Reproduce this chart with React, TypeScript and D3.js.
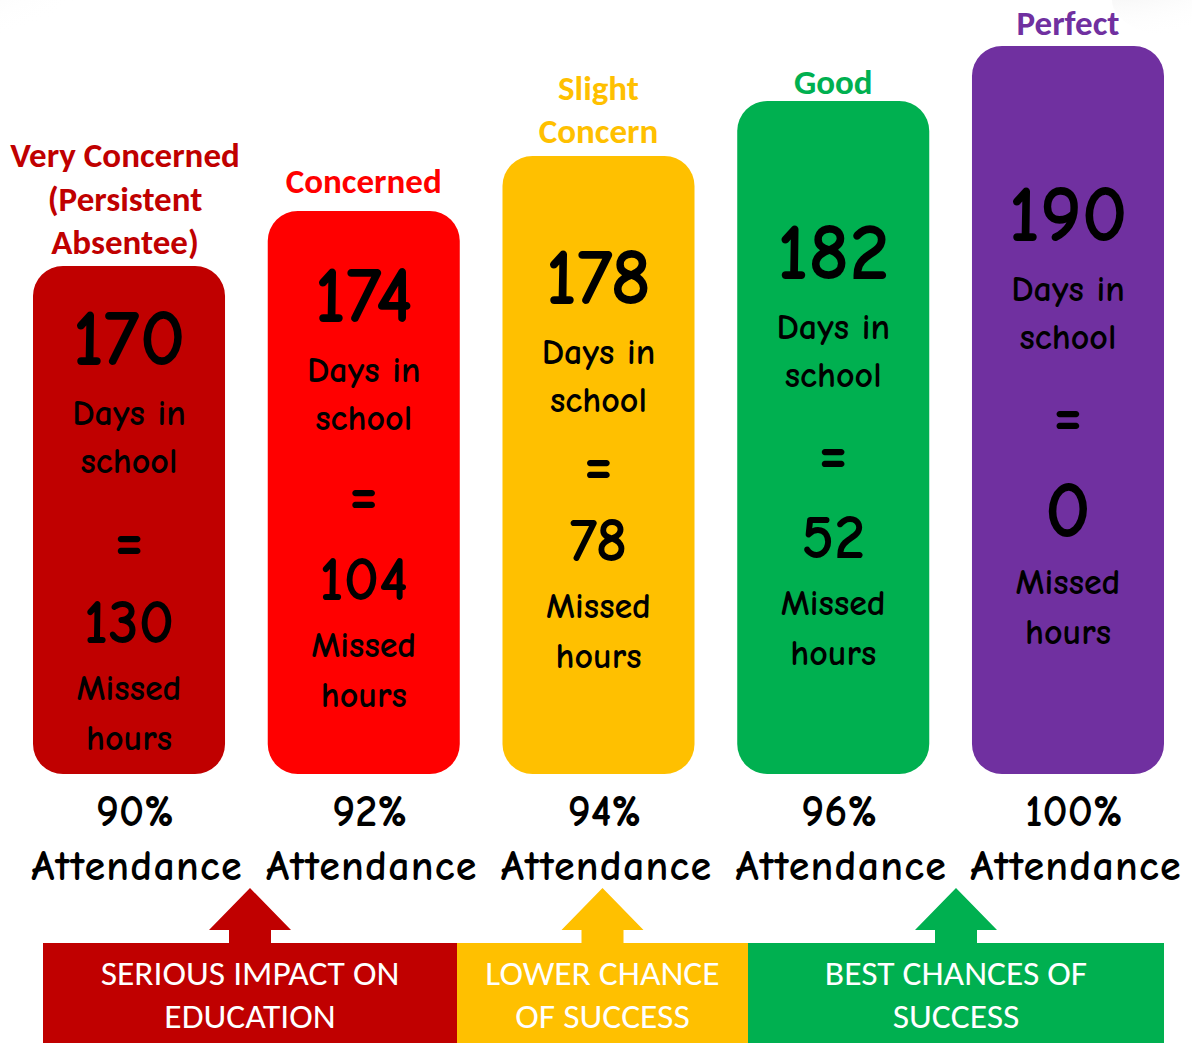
import React from "react";
import * as d3 from "d3";

// ---------- data ----------
const TITLE_LINES: string[][] = [
  ["Very Concerned", "(Persistent", "Absentee)"],
  ["Concerned"],
  ["Slight", "Concern"],
  ["Good"],
  ["Perfect"],
];
const DAYS: number[] = [170, 174, 178, 182, 190];
const MISSED_HOURS: number[] = [130, 104, 78, 52, 0];
const ATTENDANCE: string[] = ["90%", "92%", "94%", "96%", "100%"];
const BAR_COLORS: string[] = ["#C00000", "#FF0000", "#FFC000", "#00B050", "#7030A0"];
const BANNER_LINES: string[][] = [
  ["SERIOUS IMPACT ON", "EDUCATION"],
  ["LOWER CHANCE", "OF SUCCESS"],
  ["BEST CHANCES OF", "SUCCESS"],
];
const BANNER_COLORS: string[] = ["#C00000", "#FFC000", "#00B050"];

// ---------- layout (style, not data) ----------
const W = 1192;
const H = 1043;
const BAR_BOTTOM = 774;
// offsets from bar top: [big number baseline, "=" centre, small number baseline]
const CONTENT_OFFSETS: number[][] = [
  [99, 274, 377],
  [111, 283, 389],
  [148, 308, 405],
  [178, 352, 457],
  [195, 369, 491],
];
const TITLE_GAP: number[] = [12, 18, 13, 7, 11];
const BANNER_EDGES: number[] = [43, 457, 748, 1164];

const BODY_FONT = "'Comic Sans MS', 'Comic Neue', Lato, sans-serif";
const TITLE_FONT = "Calibri, Carlito, Lato, sans-serif";
const NO_LIGS = {
  fontVariantLigatures: "none",
  fontFeatureSettings: '"liga" 0, "clig" 0, "calt" 0, "dlig" 0',
} as React.CSSProperties;

export default function App() {
  const idx = d3.range(DAYS.length);
  const x = d3
    .scaleBand<number>()
    .domain(idx)
    .range([33, 1164])
    .paddingInner(0.182)
    .paddingOuter(0);
  // bars rise in equal ordinal steps
  const top = d3.scaleLinear().domain([0, DAYS.length - 1]).range([266, 46]);
  const bw = x.bandwidth();

  const bannerMid = (i: number) => (BANNER_EDGES[i] + BANNER_EDGES[i + 1]) / 2;
  const arrowPath = (cx: number) => {
    const p = d3.path();
    p.moveTo(cx, 888);
    p.lineTo(cx + 41, 930);
    p.lineTo(cx + 21, 930);
    p.lineTo(cx + 21, 944);
    p.lineTo(cx - 21, 944);
    p.lineTo(cx - 21, 930);
    p.lineTo(cx - 41, 930);
    p.closePath();
    return p.toString();
  };

  return (
    <svg
      width={W}
      height={H}
      style={{ position: "absolute", left: 0, top: 0, background: "#fff" }}
    >
      <defs>
        <radialGradient id="shadeL" cx="0" cy="0" r="1">
          <stop offset="0%" stopColor="#e4e4e4" />
          <stop offset="100%" stopColor="#ffffff" stopOpacity={0} />
        </radialGradient>
      </defs>
      <rect x={0} y={0} width={W} height={H} fill="#fff" />
      <ellipse cx={0} cy={0} rx={110} ry={50} fill="url(#shadeL)" />
      <ellipse cx={W} cy={0} rx={80} ry={40} fill="url(#shadeL)" />

      {idx.map((i) => {
        const x0 = x(i) as number;
        const cx = x0 + bw / 2;
        const t = top(i);
        const [bigY, eqY, smallY] = CONTENT_OFFSETS[i].map((o) => t + o);
        const lines = TITLE_LINES[i];
        const lastBase = t - TITLE_GAP[i];
        const zero = MISSED_HOURS[i] === 0;
        return (
          <g key={i}>
            {lines.map((ln, j) => (
              <text
                key={j}
                x={i === 0 ? cx - 4 : cx}
                y={lastBase - (lines.length - 1 - j) * 43.5}
                textAnchor="middle"
                fontFamily={TITLE_FONT}
                fontWeight={700}
                fontSize={35}
                fill={BAR_COLORS[i]}
              >
                {ln}
              </text>
            ))}
            <rect
              x={x0}
              y={t}
              width={bw}
              height={BAR_BOTTOM - t}
              rx={30}
              ry={30}
              fill={BAR_COLORS[i]}
            />
            <g
              fontFamily={BODY_FONT}
              fill="#000"
              textAnchor="middle"
              fontWeight={700}
              style={NO_LIGS}
            >
              <text x={cx} y={bigY} fontSize={80}>
                {DAYS[i]}
              </text>
              <text x={cx} y={bigY + 60} fontSize={36}>
                Days in
              </text>
              <text x={cx} y={bigY + 108} fontSize={36}>
                school
              </text>
              <text x={cx} y={eqY + 21} fontSize={64} fontWeight={900}>
                =
              </text>
              <text x={cx} y={smallY} fontSize={zero ? 80 : 62}>
                {MISSED_HOURS[i]}
              </text>
              <text x={cx} y={smallY + 57} fontSize={36}>
                Missed
              </text>
              <text x={cx} y={smallY + 107} fontSize={36}>
                hours
              </text>
              <text x={cx + 6} y={826} fontSize={44}>
                {ATTENDANCE[i]}
              </text>
              <text
                x={cx + 8}
                y={880}
                fontSize={42}
                letterSpacing={1.2}
                style={NO_LIGS}
              >
                Attendance
              </text>
            </g>
          </g>
        );
      })}

      {BANNER_LINES.map((lines, k) => {
        const mid = bannerMid(k);
        return (
          <g key={k}>
            <rect
              x={BANNER_EDGES[k]}
              y={943}
              width={BANNER_EDGES[k + 1] - BANNER_EDGES[k]}
              height={H - 943}
              fill={BANNER_COLORS[k]}
            />
            <path d={arrowPath(mid)} fill={BANNER_COLORS[k]} />
            {lines.map((ln, j) => (
              <text
                key={j}
                x={mid}
                y={985 + j * 43}
                textAnchor="middle"
                fontFamily={TITLE_FONT}
                fontSize={35.5}
                fill="#fff"
              >
                {ln}
              </text>
            ))}
          </g>
        );
      })}
    </svg>
  );
}
